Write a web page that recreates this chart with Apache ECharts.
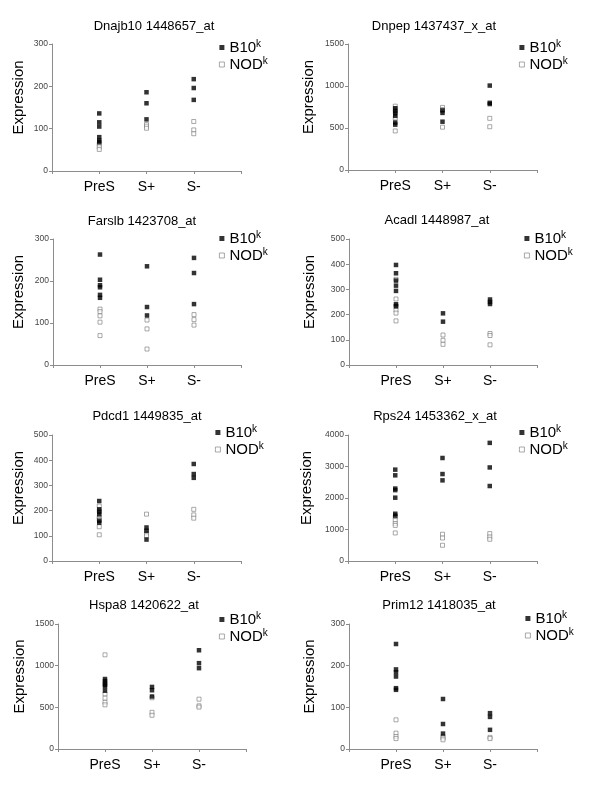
<!DOCTYPE html>
<html>
<head>
<meta charset="utf-8">
<script src="https://cdn.jsdelivr.net/npm/echarts@6/dist/echarts.min.js"></script>
<style>
html,body{margin:0;padding:0;background:#fff;}
#chart{width:600px;height:787px;}
</style>
</head>
<body>
<div id="chart"></div>
<script>
// ---- data ----
const groups = ['PreS', 'S+', 'S-'];
const axisSlots = ['', 'PreS', 'S+', 'S-', ' '];
const titles = ['Dnajb10 1448657_at', 'Dnpep 1437437_x_at', 'Farslb 1423708_at', 'Acadl 1448987_at',
                'Pdcd1 1449835_at', 'Rps24 1453362_x_at', 'Hspa8 1420622_at', 'Prim12 1418035_at'];
const yMax  = [300, 1500, 300, 500, 500, 4000, 1500, 300];
const yStep = [100, 500, 100, 100, 100, 1000, 500, 100];

// each: [PreS values, S+ values, S- values]
const dnajb10B10 = [[136, 115, 105, 80, 72, 68], [186, 160, 122], [217, 196, 168]];
const dnajb10NOD = [[63, 57, 51], [110, 106, 101], [117, 97, 88]];
const dnpepB10   = [[735, 705, 675, 645, 565, 540], [710, 680, 575], [1005, 800, 785]];
const dnpepNOD   = [[760, 725, 690, 620, 465], [745, 720, 510], [615, 515]];
const farslbB10  = [[263, 203, 190, 185, 167, 160], [235, 138, 118], [255, 219, 145]];
const farslbNOD  = [[133, 127, 117, 102, 70], [107, 86, 38], [120, 108, 95]];
const acadlB10   = [[397, 364, 335, 315, 294, 241, 233], [205, 172], [260, 250, 242]];
const acadlNOD   = [[340, 262, 235, 218, 206, 175], [119, 98, 82], [125, 117, 80]];
const pdcd1B10   = [[238, 205, 195, 185, 160, 152], [133, 120, 85], [385, 345, 330]];
const pdcd1NOD   = [[218, 200, 175, 165, 136, 104], [186, 118, 108, 100], [205, 183, 170]];
const rps24B10   = [[2900, 2720, 2300, 2250, 2010, 1500, 1440], [3270, 2760, 2560], [3750, 2970, 2380]];
const rps24NOD   = [[1400, 1290, 1190, 1130, 890], [850, 730, 500], [870, 765, 690]];
const hspa8B10   = [[840, 815, 790, 770, 750, 700], [745, 705, 630], [1185, 1030, 970]];
const hspa8NOD   = [[1130, 660, 610, 560, 530], [615, 440, 405], [598, 518, 503]];
const prim12B10  = [[252, 191, 184, 174, 146, 142], [120, 60, 37], [86, 77, 46]];
const prim12NOD  = [[70, 38, 30, 25], [30, 26, 22], [28, 25]];

const b10Sets = [dnajb10B10, dnpepB10, farslbB10, acadlB10, pdcd1B10, rps24B10, hspa8B10, prim12B10];
const nodSets = [dnajb10NOD, dnpepNOD, farslbNOD, acadlNOD, pdcd1NOD, rps24NOD, hspa8NOD, prim12NOD];

// ---- layout ----
const grids = [
  {left: 52, top: 44, width: 189, height: 127},
  {left: 348, top: 44, width: 189, height: 126},
  {left: 53, top: 239, width: 188, height: 126},
  {left: 349, top: 239, width: 188, height: 126},
  {left: 52, top: 435, width: 189, height: 126},
  {left: 348, top: 435, width: 189, height: 126},
  {left: 58, top: 624, width: 188, height: 125},
  {left: 349, top: 624, width: 188, height: 125}
];
const nameGaps = [26, 32, 27, 32, 26, 34, 31, 32];
const titlePos = [[149, 23], [429, 23], [137, 218], [432, 217], [142, 413], [430, 413], [139, 602], [434, 602]];
const legendPos = [[219, 39], [519, 39], [219, 230], [524, 230], [215, 424], [519, 424], [219, 611], [525, 610]];

const FONT = '"Liberation Sans", Arial, Helvetica, sans-serif';
const AX = '#8c8c8c';

function toPoints(sets) {
  const out = [];
  sets.forEach((vals, gi) => vals.forEach(v => out.push([groups[gi], v])));
  return out;
}

const option = {
  animation: false,
  backgroundColor: '#fff',
  textStyle: {fontFamily: FONT},
  title: [], grid: [], xAxis: [], yAxis: [], series: [], legend: []
};

for (let i = 0; i < 8; i++) {
  const g = grids[i];
  option.grid.push({left: g.left, top: g.top, width: g.width, height: g.height, containLabel: false});
  option.title.push({
    text: titles[i], left: titlePos[i][0], top: titlePos[i][1] - 8, textAlign: 'center',
    textStyle: {fontFamily: FONT, fontSize: 13, fontWeight: 'normal', color: '#000'}
  });
  option.xAxis.push({
    type: 'category', gridIndex: i, data: axisSlots, boundaryGap: false,
    axisLine: {lineStyle: {color: AX, width: 1}},
    axisTick: {show: true, interval: 0, length: 3, lineStyle: {color: AX}},
    axisLabel: {interval: 0, fontSize: 14, color: '#000', margin: 9, fontFamily: FONT},
    splitLine: {show: false}
  });
  option.yAxis.push({
    type: 'value', gridIndex: i, min: 0, max: yMax[i], interval: yStep[i],
    name: 'Expression', nameLocation: 'middle', nameGap: nameGaps[i],
    nameTextStyle: {fontSize: 15, color: '#000', fontFamily: FONT, padding: [0, 0, 0, 20]},
    axisLine: {show: true, lineStyle: {color: AX, width: 1}},
    axisTick: {show: true, length: 3, lineStyle: {color: AX}},
    axisLabel: {fontSize: 8.5, color: '#444', margin: 4, fontFamily: FONT, formatter: v => String(v)},
    splitLine: {show: false}
  });
  option.series.push({
    name: 'B10', type: 'scatter', xAxisIndex: i, yAxisIndex: i,
    symbol: 'rect', symbolSize: 4.5,
    itemStyle: {color: '#000'},
    data: toPoints(b10Sets[i]), z: 3
  });
  option.series.push({
    name: 'NOD', type: 'scatter', xAxisIndex: i, yAxisIndex: i,
    symbol: 'rect', symbolSize: 4,
    itemStyle: {color: '#fff', borderColor: '#777', borderWidth: 0.8},
    data: toPoints(nodSets[i]), z: 2
  });
  option.legend.push({
    orient: 'vertical', left: legendPos[i][0], top: legendPos[i][1],
    itemWidth: 5, itemHeight: 5, itemGap: 1, padding: 0, selectedMode: false,
    data: [
      {name: 'B10', icon: 'rect', itemStyle: {color: '#000'}},
      {name: 'NOD', icon: 'rect', itemStyle: {color: '#fff', borderColor: '#777', borderWidth: 0.8}}
    ],
    formatter: n => '{n|' + n + '}{s|k}',
    textStyle: {
      fontFamily: FONT, color: '#000',
      rich: {
        n: {fontSize: 15, lineHeight: 17, fontFamily: FONT, color: '#000'},
        s: {fontSize: 10, lineHeight: 17, verticalAlign: 'top', padding: [0, 0, 6, 0], fontFamily: FONT, color: '#000'}
      }
    }
  });
}

const chart = echarts.init(document.getElementById('chart'), null, {renderer: 'canvas'});
chart.setOption(option);
</script>
</body>
</html>
